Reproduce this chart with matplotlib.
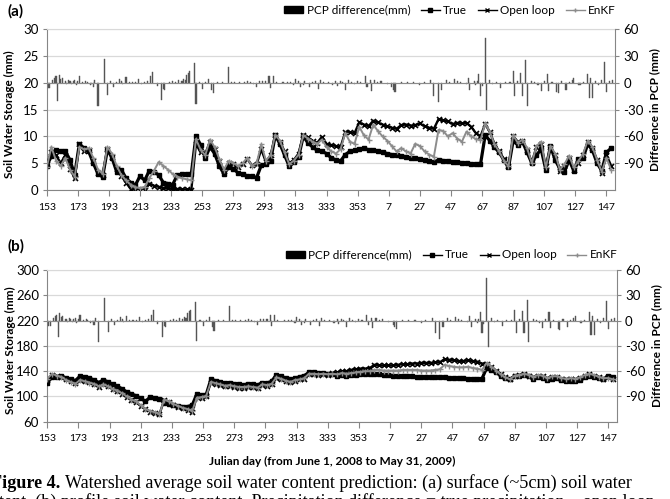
import numpy as np
import matplotlib.pyplot as plt
from matplotlib.patches import Patch
from matplotlib.lines import Line2D

plt.rcParams['font.family'] = ['Lato', 'DejaVu Sans']
plt.rcParams['axes.unicode_minus'] = False

# day index 0 = June 1, 2008 (Julian day 153); storage values read every 3 days
step_idx = list(range(0, 364, 3))
tick_idx = list(range(0, 361, 20))
tick_labels = ['153', '173', '193', '213', '233', '253', '273', '293', '313', '333',
               '353', '7', '27', '47', '67', '87', '107', '127', '147']

# (a) surface soil water storage (mm)
true_a = [4.5, 6.3, 7.4, 7.3, 7.2, 5.6, 2.8, 8.6, 7.8, 7.2,
          5.0, 3.0, 2.5, 7.5, 6.0, 3.4, 3.8, 2.2, 1.4, 0.9,
          2.6, 1.8, 3.6, 3.4, 2.8, 1.4, 1.2, 1.0, 2.8, 2.9,
          3.0, 3.0, 10.1, 8.4, 6.0, 8.0, 6.8, 4.5, 3.0, 4.2,
          4.0, 3.2, 3.0, 2.6, 2.6, 2.3, 4.6, 4.8, 5.5, 10.2,
          8.6, 6.5, 4.4, 5.2, 6.2, 10.0, 8.8, 8.0, 7.4, 7.2,
          6.8, 6.0, 5.6, 5.4, 6.6, 7.2, 7.4, 7.6, 7.8, 7.5,
          7.4, 7.2, 7.0, 6.8, 6.6, 6.5, 6.4, 6.2, 6.0, 5.9,
          5.8, 5.6, 5.4, 5.2, 5.6, 5.5, 5.4, 5.3, 5.2, 5.1,
          5.0, 4.9, 4.8, 4.8, 10.2, 9.2, 8.0, 7.0, 5.6, 4.2,
          9.2, 8.4, 9.0, 7.0, 5.0, 6.5, 7.6, 3.8, 8.2, 5.6,
          4.0, 3.4, 5.6, 3.6, 5.8, 6.0, 8.6, 7.4, 5.0, 3.6,
          7.0, 7.8]
open_a = [4.8, 7.0, 6.5, 5.0, 6.5, 4.0, 2.2, 8.5, 7.2, 7.5,
          5.5, 3.2, 2.8, 7.6, 6.2, 4.0, 2.6, 1.4, 0.2, 0.0,
          0.0, 0.0, 1.2, 0.8, 0.6, 0.4, 0.3, 0.2, 0.2, 0.1,
          0.1, 0.0, 8.6, 7.0, 6.8, 9.0, 7.6, 5.5, 3.6, 5.0,
          4.8, 4.2, 4.8, 5.8, 4.6, 4.8, 7.6, 5.2, 6.5, 10.2,
          9.0, 7.2, 5.0, 5.6, 6.8, 10.3, 9.8, 9.2, 8.8, 9.9,
          8.6, 8.4, 8.2, 8.0, 10.8, 10.8, 10.6, 12.6, 12.2, 11.9,
          12.9, 12.6, 12.2, 11.9, 11.6, 11.4, 12.1, 12.2, 12.0, 12.1,
          12.4, 11.9, 11.6, 11.4, 13.2, 13.0, 12.8, 12.3, 12.5, 12.4,
          12.5, 11.8, 10.6, 10.0, 12.3, 10.8, 8.6, 7.2, 5.8, 4.4,
          10.0, 9.0, 9.2, 7.4, 5.2, 8.0, 8.6, 4.4, 8.0, 6.5,
          3.6, 4.4, 6.0, 3.8, 5.0, 6.5, 9.0, 7.8, 5.6, 3.2,
          6.6, 4.5]
enkf_a = [4.2, 8.0, 5.5, 4.5, 6.0, 3.8, 2.5, 8.0, 7.6, 7.8,
          6.0, 3.8, 3.0, 8.0, 6.8, 4.5, 2.8, 1.8, 1.0, 0.5,
          0.4, 0.6, 2.2, 3.6, 5.2, 4.5, 3.8, 3.0, 2.5, 2.2,
          2.0, 1.8, 9.5, 7.5, 6.5, 9.4, 8.0, 5.8, 3.8, 5.4,
          5.0, 4.5, 5.0, 6.0, 4.5, 5.0, 8.5, 5.5, 6.5, 10.3,
          9.2, 7.0, 4.8, 5.5, 6.6, 10.2, 9.6, 9.0, 8.6, 9.4,
          8.0, 7.2, 6.8, 7.6, 10.6, 9.0, 8.6, 11.8, 10.2, 9.4,
          12.2, 11.0, 10.0, 9.2, 8.2, 7.2, 7.8, 7.2, 6.8, 8.6,
          8.2, 7.2, 6.6, 6.2, 11.2, 11.0, 10.0, 10.6, 9.6, 9.0,
          10.9, 10.0, 9.5, 9.3, 12.4, 10.8, 8.5, 7.2, 5.5, 4.4,
          10.2, 8.8, 9.4, 7.8, 5.0, 8.2, 9.0, 4.2, 8.2, 6.8,
          3.8, 4.8, 6.4, 4.2, 5.4, 6.8, 9.2, 8.0, 5.6, 3.4,
          6.0, 3.8]

# (b) profile soil water storage (mm)
true_b = [122, 130, 131, 132, 129, 127, 125, 132, 131, 129,
          126, 122, 126, 123, 119, 116, 112, 107, 104, 101,
          97, 92, 99, 98, 96, 90, 88, 86, 85, 84,
          84, 86, 104, 102, 103, 127, 125, 123, 121, 122,
          120, 119, 118, 120, 119, 118, 122, 121, 124, 134,
          132, 129, 127, 129, 131, 133, 138, 138, 137, 137,
          136, 135, 133, 134, 132, 134, 134, 135, 136, 135,
          135, 135, 134, 134, 133, 133, 132, 132, 132, 131,
          131, 131, 130, 130, 130, 130, 129, 129, 129, 129,
          128, 128, 128, 128, 145, 142, 138, 133, 129, 127,
          132, 133, 134, 132, 127, 130, 129, 126, 128, 129,
          126, 124, 125, 124, 126, 131, 133, 131, 129, 127,
          133, 131]
open_b = [126, 134, 132, 130, 127, 124, 121, 126, 124, 123,
          120, 115, 120, 116, 112, 109, 104, 99, 95, 91,
          85, 80, 76, 74, 72, 94, 91, 87, 84, 82,
          79, 76, 99, 98, 100, 122, 120, 118, 116, 117,
          115, 114, 114, 115, 115, 114, 118, 117, 119, 129,
          127, 124, 123, 125, 127, 128, 135, 135, 134, 135,
          134, 137, 138, 140, 140, 142, 143, 144, 144, 145,
          150, 149, 149, 149, 149, 150, 151, 151, 152, 152,
          153, 153, 153, 154, 154, 159, 158, 157, 156, 156,
          157, 156, 155, 152, 152, 147, 141, 136, 130, 127,
          133, 134, 135, 133, 131, 133, 132, 129, 131, 131,
          128, 127, 128, 127, 129, 133, 135, 133, 130, 128,
          130, 128]
enkf_b = [128, 136, 133, 131, 126, 123, 120, 126, 124, 122,
          120, 116, 119, 116, 112, 109, 105, 100, 95, 92,
          86, 80, 77, 75, 72, 95, 92, 88, 85, 82,
          80, 77, 98, 99, 101, 123, 121, 119, 117, 118,
          116, 115, 115, 116, 115, 114, 119, 118, 120, 130,
          128, 125, 123, 126, 127, 129, 136, 136, 135, 136,
          135, 136, 135, 137, 136, 137, 138, 139, 140, 140,
          142, 142, 141, 141, 141, 141, 142, 142, 142, 142,
          141, 141, 141, 142, 143, 150, 148, 147, 146, 146,
          147, 145, 144, 142, 153, 147, 141, 135, 130, 127,
          133, 134, 136, 134, 131, 134, 133, 129, 132, 132,
          129, 128, 129, 128, 130, 134, 136, 134, 131, 129,
          129, 127]

# precipitation difference (mm) = true - open loop, on the right axis
pcp_idx = [1, 2, 4, 5, 6, 7, 8, 9, 10, 12, 13, 14, 15, 16, 17, 18, 19, 20, 21, 23,
           25, 26, 28, 29, 30, 31, 33, 37, 39, 41, 43, 45, 47, 48, 49, 51, 53, 55, 57, 59,
           61, 63, 65, 67, 68, 71, 74, 75, 76, 79, 81, 83, 85, 87, 88, 89, 90, 91, 92, 95,
           96, 98, 100, 102, 104, 106, 107, 110, 113, 117, 119, 121, 124, 127, 129, 131, 133, 135, 137, 139,
           141, 143, 144, 146, 148, 152, 155, 157, 159, 160, 162, 163, 165, 166, 169, 171, 173, 175, 176, 178,
           181, 184, 186, 187, 189, 190, 192, 194, 196, 198, 200, 202, 205, 206, 208, 209, 211, 213, 215, 219,
           222, 223, 224, 228, 232, 236, 240, 243, 247, 249, 252, 254, 257, 259, 262, 264, 266, 270, 271, 272,
           275, 276, 277, 278, 279, 280, 282, 283, 285, 287, 289, 292, 295, 298, 300, 301, 303, 305, 306, 308,
           309, 312, 314, 316, 318, 320, 322, 323, 325, 328, 329, 331, 334, 336, 338, 339, 342, 343, 345, 348,
           349, 350, 351, 353, 355, 357, 359, 360, 362, 364]
pcp_diff = [-6, -6, 3, 5, 7, -20, 9, 4, 5, 2, -2, 3, 2, -2, 2, 3, -3, 2, 7, 1,
            2, 1, -3, -2, -5, 3, -26, 27, -14, 2, -5, 1, 4, 2, -2, 6, 1, 1, 1, 4,
            -2, 1, 2, 7, 12, -4, -19, -7, -8, 1, 2, 1, 3, 2, 4, 3, 9, 11, 13, 22,
            -24, 1, -7, 1, 4, -8, -12, 1, 1, 17, 1, 1, 1, 1, 2, 1, -2, -5, 2, 2,
            2, 7, -6, 7, 1, 1, 1, 1, -3, 4, 2, -5, -3, 2, -5, 1, 2, -7, 3, 1,
            1, -3, 2, -4, 2, 1, -8, 3, 1, -2, 2, 1, 7, -5, 3, -9, 3, 1, 2, -2,
            -5, -8, -10, 1, 1, 1, -3, 1, 3, -15, -22, -8, 3, 1, 4, 2, 1, -2, 5, -8,
            2, -3, 2, 10, -15, -4, 50, -31, 3, -2, 1, -6, 1, 1, 13, -15, 2, 11, -15, 25,
            -26, 2, 1, -3, -9, 2, 10, -9, 1, -10, -11, 2, -8, 1, 3, 5, -3, -3, 1, 10,
            -17, 5, -17, 2, -3, 3, 23, -10, 2, 3]

GRID = '#d9d9d9'
AXC = '#868686'


def draw_panel(rect, true, openl, enkf, ylim, yticks, letter, letter_y, leg_y):
    ax = fig.add_axes(rect)
    ax.plot(step_idx, true, color='black', lw=2.3, marker='s', ms=3.0, zorder=3)
    ax.plot(step_idx, openl, color='black', lw=1.7, marker='x', ms=3.6, mew=1.2, zorder=4)
    ax.plot(step_idx, enkf, color='#8c8c8c', lw=1.4, marker='+', ms=3.6, mew=1.0, zorder=5)
    ax.set_xlim(0, 365.5)
    ax.set_ylim(*ylim)
    ax.set_yticks(yticks)
    ax.set_xticks(tick_idx)
    ax.set_xticklabels(tick_labels)
    ax.yaxis.grid(True, color=GRID, lw=0.9)
    ax.set_axisbelow(True)
    for s in ('left', 'bottom'):
        ax.spines[s].set_color(AXC)
    ax.spines['top'].set_color(GRID)
    ax.spines['right'].set_visible(False)
    ax.tick_params(axis='x', direction='out', length=4, color=AXC, labelsize=7.5, pad=5)
    ax.tick_params(axis='y', direction='out', length=3, color=AXC, labelsize=9.5, pad=3)
    ax.set_ylabel('Soil Water Storage (mm)', fontsize=8.5, fontweight='bold')
    ax.yaxis.set_label_coords(-0.055, 0.47)

    axr = ax.twinx()
    axr.bar(pcp_idx, pcp_diff, width=0.7, color='#555555', edgecolor='#555555', lw=0.3)
    axr.axhline(0, color='#8c8c8c', lw=0.8)
    axr.set_ylim(-120, 60)
    axr.set_yticks([-90, -60, -30, 0, 30, 60])
    for s in ('left', 'bottom', 'top'):
        axr.spines[s].set_visible(False)
    axr.spines['right'].set_color(AXC)
    axr.tick_params(axis='y', direction='out', length=3, color=AXC, labelsize=9.5, pad=3)
    axr.set_ylabel('Difference in PCP (mm)', fontsize=8.5, fontweight='bold', rotation=90)
    axr.yaxis.set_label_coords(1.061, 0.5)

    handles = [Patch(facecolor='black', edgecolor='black'),
               Line2D([], [], color='black', lw=1.0, marker='s', ms=2.5),
               Line2D([], [], color='black', lw=1.0, marker='x', ms=3),
               Line2D([], [], color='#8c8c8c', lw=1.0, marker='+', ms=3)]
    ax.legend(handles, ['PCP difference(mm)', 'True', 'Open loop', 'EnKF'],
              loc='center right', bbox_to_anchor=(1.012, leg_y), ncol=4, frameon=False,
              fontsize=8.5, handlelength=1.6, handleheight=0.5, handletextpad=0.3,
              columnspacing=0.9, borderpad=0)
    fig.text(8 / 670, letter_y, letter, fontsize=11, fontweight='bold', va='center')
    return ax


fig = plt.figure(figsize=(6.7, 4.99), dpi=100)

draw_panel([0.0697, 0.6192, 0.8482, 0.3226], true_a, open_a, enkf_a,
           (0, 30), [0, 5, 10, 15, 20, 25, 30], '(a)', 1 - 11 / 499, 1.118)
axb = draw_panel([0.0706, 0.1549, 0.8499, 0.304], true_b, open_b, enkf_b,
                 (60, 300), [60, 100, 140, 180, 220, 260, 300], '(b)', 1 - 246 / 499, 1.10)
axb.set_xlabel('Julian day (from June 1, 2008 to May 31, 2009)', fontsize=8.5, fontweight='bold')
axb.xaxis.set_label_coords(0.5, -0.225)

# caption (cut off by the page edges in the scan)
renderer = fig.canvas.get_renderer()
bold = fig.text(-0.013, 1 - 488 / 499, 'Figure 4.', family='Liberation Serif',
                fontsize=13.1, fontweight='bold', va='baseline')
bb = bold.get_window_extent(renderer)
fig.text(bb.x1 / 670 + 0.007, 1 - 488 / 499,
         'Watershed average soil water content prediction: (a) surface (~5cm) soil water',
         family='Liberation Serif', fontsize=13.1, va='baseline')
fig.text(-0.001, 1 - 493 / 499,
         'tent. (b) profile soil water content. Precipitation difference = true precipitation \u2013 open loop',
         family='Liberation Serif', fontsize=13.1, va='top')

fig.savefig('out.png', dpi=100)
